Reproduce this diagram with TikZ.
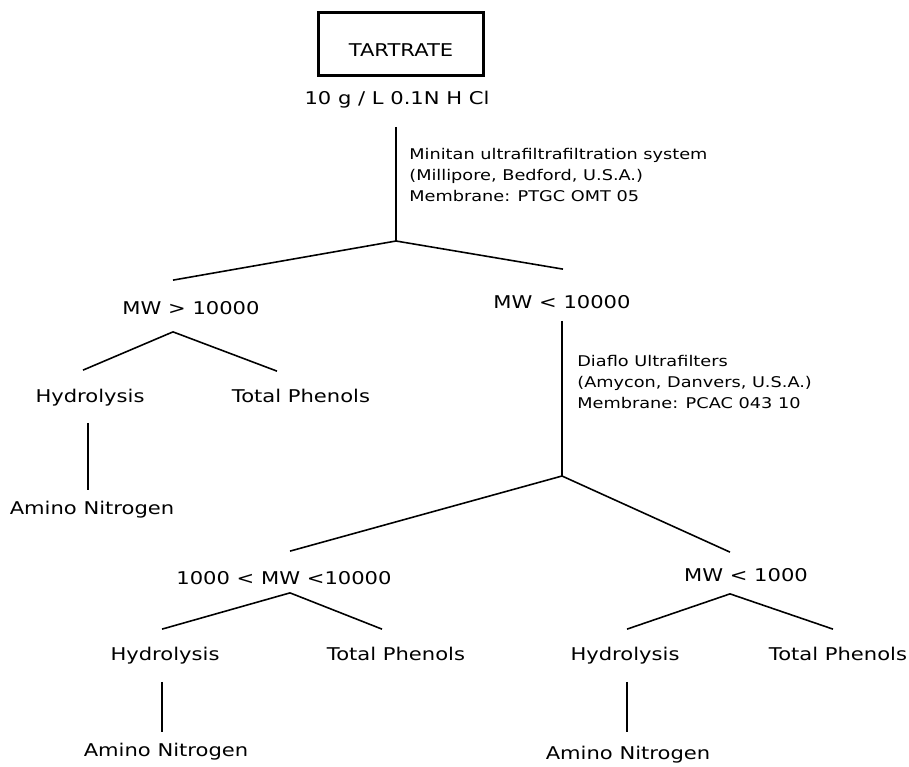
\documentclass[tikz,border=0pt]{standalone}
\usepackage{fontspec}
\setmainfont{DejaVu Sans}[FakeStretch=1.2]
\usetikzlibrary{calc}

\begin{document}
\begin{tikzpicture}[
    x=0.02cm, y=-0.02cm,
    font=\fontsize{10}{12}\selectfont,
    box/.style={
        draw=black,
        line width=1.7pt,
        minimum width=3.3cm,
        minimum height=1.26cm,
        text height=14pt,
        text depth=0pt
    },
    lbl/.style={
        inner sep=0pt,
        text height=7.3pt,
        text depth=2.4pt
    },
    note/.style={
        inner sep=0pt,
        anchor=west,
        align=left,
        font=\fontsize{8.4}{12}\selectfont
    },
    link/.style={line width=0.9pt}
]
\useasboundingbox (0,0) rectangle (909,767);

\node[box] (tart) at (401,44) {TARTRATE};
\node[lbl] (conc) at (397,100) {10 g / L 0.1N H Cl};

\node[note] (minitan) at (409,175)
{Minitan ultrafiltrafiltration system\\
(Millipore, Bedford, U.S.A.)\\
Membrane: PTGC OMT 05};

\node[lbl] (hi) at (191,310) {MW > 10000};
\node[lbl] (lo) at (562,304) {MW < 10000};

\node[lbl] (hyd1) at (90,398) {Hydrolysis};
\node[lbl] (tp1) at (301,398) {Total Phenols};
\node[lbl] (amino1) at (92,510) {Amino Nitrogen};

\node[note] (diaflo) at (577,382)
{Diaflo Ultrafilters\\
(Amycon, Danvers, U.S.A.)\\
Membrane: PCAC 043 10};

\node[lbl] (mid) at (284,580) {1000 < MW <10000};
\node[lbl] (low) at (746,577) {MW < 1000};

\node[lbl] (hyd2) at (165,656) {Hydrolysis};
\node[lbl] (tp2) at (396,656) {Total Phenols};
\node[lbl] (amino2) at (166,752) {Amino Nitrogen};

\node[lbl] (hyd3) at (625,656) {Hydrolysis};
\node[lbl] (tp3) at (838,656) {Total Phenols};
\node[lbl] (amino3) at (628,755) {Amino Nitrogen};

\coordinate (split1) at (396,241);
\coordinate (split2) at (562,476);
\coordinate (hiA) at ($(hi.south)+(-18,13)$);
\coordinate (midA) at ($(mid.south)+(6,4)$);
\coordinate (lowA) at ($(low.south)+(-16,8)$);

\draw[link] ($(conc.south)+(-1,18)$) -- (split1);
\draw[link] (split1) -- ($(hi.north)+(-18,-21)$);
\draw[link] (split1) -- ($(lo.north)+(1,-26)$);

\draw[link] (hiA) -- ($(hyd1.north)+(-7,-19)$);
\draw[link] (hiA) -- ($(tp1.north)+(-24,-18)$);
\draw[link] ($(hyd1.south)+(-2,16)$) -- ($(amino1.north)+(-4,-11)$);

\draw[link] ($(lo.south)+(0,8)$) -- (split2);
\draw[link] (split2) -- ($(mid.north)+(6,-20)$);
\draw[link] (split2) -- ($(low.north)+(-16,-16)$);

\draw[link] (midA) -- ($(hyd2.north)+(-3,-18)$);
\draw[link] (midA) -- ($(tp2.north)+(-14,-18)$);
\draw[link] ($(hyd2.south)+(-3,17)$) -- ($(amino2.north)+(-4,-11)$);

\draw[link] (lowA) -- ($(hyd3.north)+(2,-18)$);
\draw[link] (lowA) -- ($(tp3.north)+(-5,-18)$);
\draw[link] ($(hyd3.south)+(2,17)$) -- ($(amino3.north)+(-1,-14)$);

\end{tikzpicture}
\end{document}
